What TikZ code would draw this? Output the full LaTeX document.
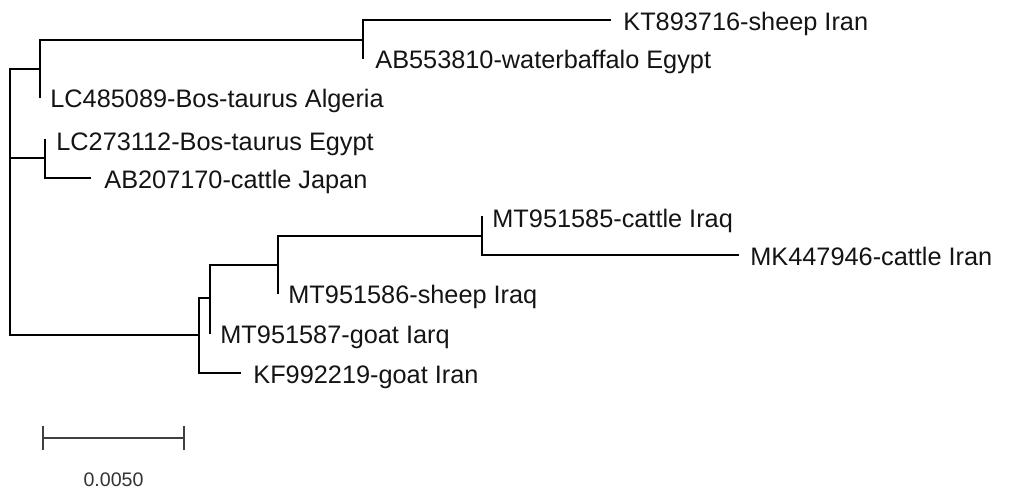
\documentclass[tikz,border=0pt]{standalone}
\usepackage{fontspec}
\setmainfont{Liberation Sans}
\begin{document}
\begin{tikzpicture}[x=0.5pt,y=-0.5pt,
  branch/.style={line width=0.75pt,black,line cap=rect},
  leaflabel/.style={anchor=base west,inner sep=0pt,font=\fontsize{12.65pt}{14pt}\selectfont,text=black!92},
  scalebar/.style={line width=0.8pt,black!75},
  scalelabel/.style={anchor=base,inner sep=0pt,font=\fontsize{9.8pt}{11pt}\selectfont,text=black!80}]
\useasboundingbox (0,0) rectangle (1017,488);
% internal nodes (x, y of connection to parent)
\coordinate (root) at (10,69);
\coordinate (A) at (40,69);
\coordinate (A1) at (363,40);
\coordinate (B) at (45,158);
\coordinate (C) at (199,335);
\coordinate (D) at (210,298);
\coordinate (E) at (278,265);
\coordinate (F) at (482,236);
% leaves
\coordinate (l1) at (610,20);
\coordinate (l2) at (363,58);
\coordinate (l3) at (40,97);
\coordinate (l4) at (45,140);
\coordinate (l5) at (90,178);
\coordinate (l6) at (482,217);
\coordinate (l7) at (738,255);
\coordinate (l8) at (278,293);
\coordinate (l9) at (210,333);
\coordinate (l10) at (240,373);
% branches
\draw[branch] (root) |- (A);
\draw[branch] (root) |- (B);
\draw[branch] (root) |- (C);
\draw[branch] (A) |- (A1);
\draw[branch] (A) |- (l3);
\draw[branch] (A1) |- (l1);
\draw[branch] (A1) |- (l2);
\draw[branch] (B) |- (l4);
\draw[branch] (B) |- (l5);
\draw[branch] (C) |- (D);
\draw[branch] (C) |- (l10);
\draw[branch] (D) |- (E);
\draw[branch] (D) |- (l9);
\draw[branch] (E) |- (F);
\draw[branch] (E) |- (l8);
\draw[branch] (F) |- (l6);
\draw[branch] (F) |- (l7);
% labels
\node[leaflabel] (t1) at ([shift={(13,10.5)}]l1) {KT893716-sheep Iran};
\node[leaflabel] (t2) at ([shift={(12,10.5)}]l2) {AB553810-waterbaffalo Egypt};
\node[leaflabel] (t3) at ([shift={(10,10.5)}]l3) {LC485089-Bos-taurus Algeria};
\node[leaflabel] (t4) at ([shift={(11,10.5)}]l4) {LC273112-Bos-taurus Egypt};
\node[leaflabel] (t5) at ([shift={(14,10.5)}]l5) {AB207170-cattle Japan};
\node[leaflabel] (t6) at ([shift={(10,10.5)}]l6) {MT951585-cattle Iraq};
\node[leaflabel] (t7) at ([shift={(12,10.5)}]l7) {MK447946-cattle Iran};
\node[leaflabel] (t8) at ([shift={(10,10.5)}]l8) {MT951586-sheep Iraq};
\node[leaflabel] (t9) at ([shift={(10,10.5)}]l9) {MT951587-goat Iarq};
\node[leaflabel] (t10) at ([shift={(13,10.5)}]l10) {KF992219-goat Iran};
% scale bar
\coordinate (s1) at (43,438);
\coordinate (s2) at (184,438);
\draw[scalebar] (s1) -- (s2);
\draw[scalebar] ([yshift=-6]s1) -- ([yshift=6]s1);
\draw[scalebar] ([yshift=-6]s2) -- ([yshift=6]s2);
\node[scalelabel] (sl) at (113.5,486) {0.0050};
\end{tikzpicture}
\end{document}
